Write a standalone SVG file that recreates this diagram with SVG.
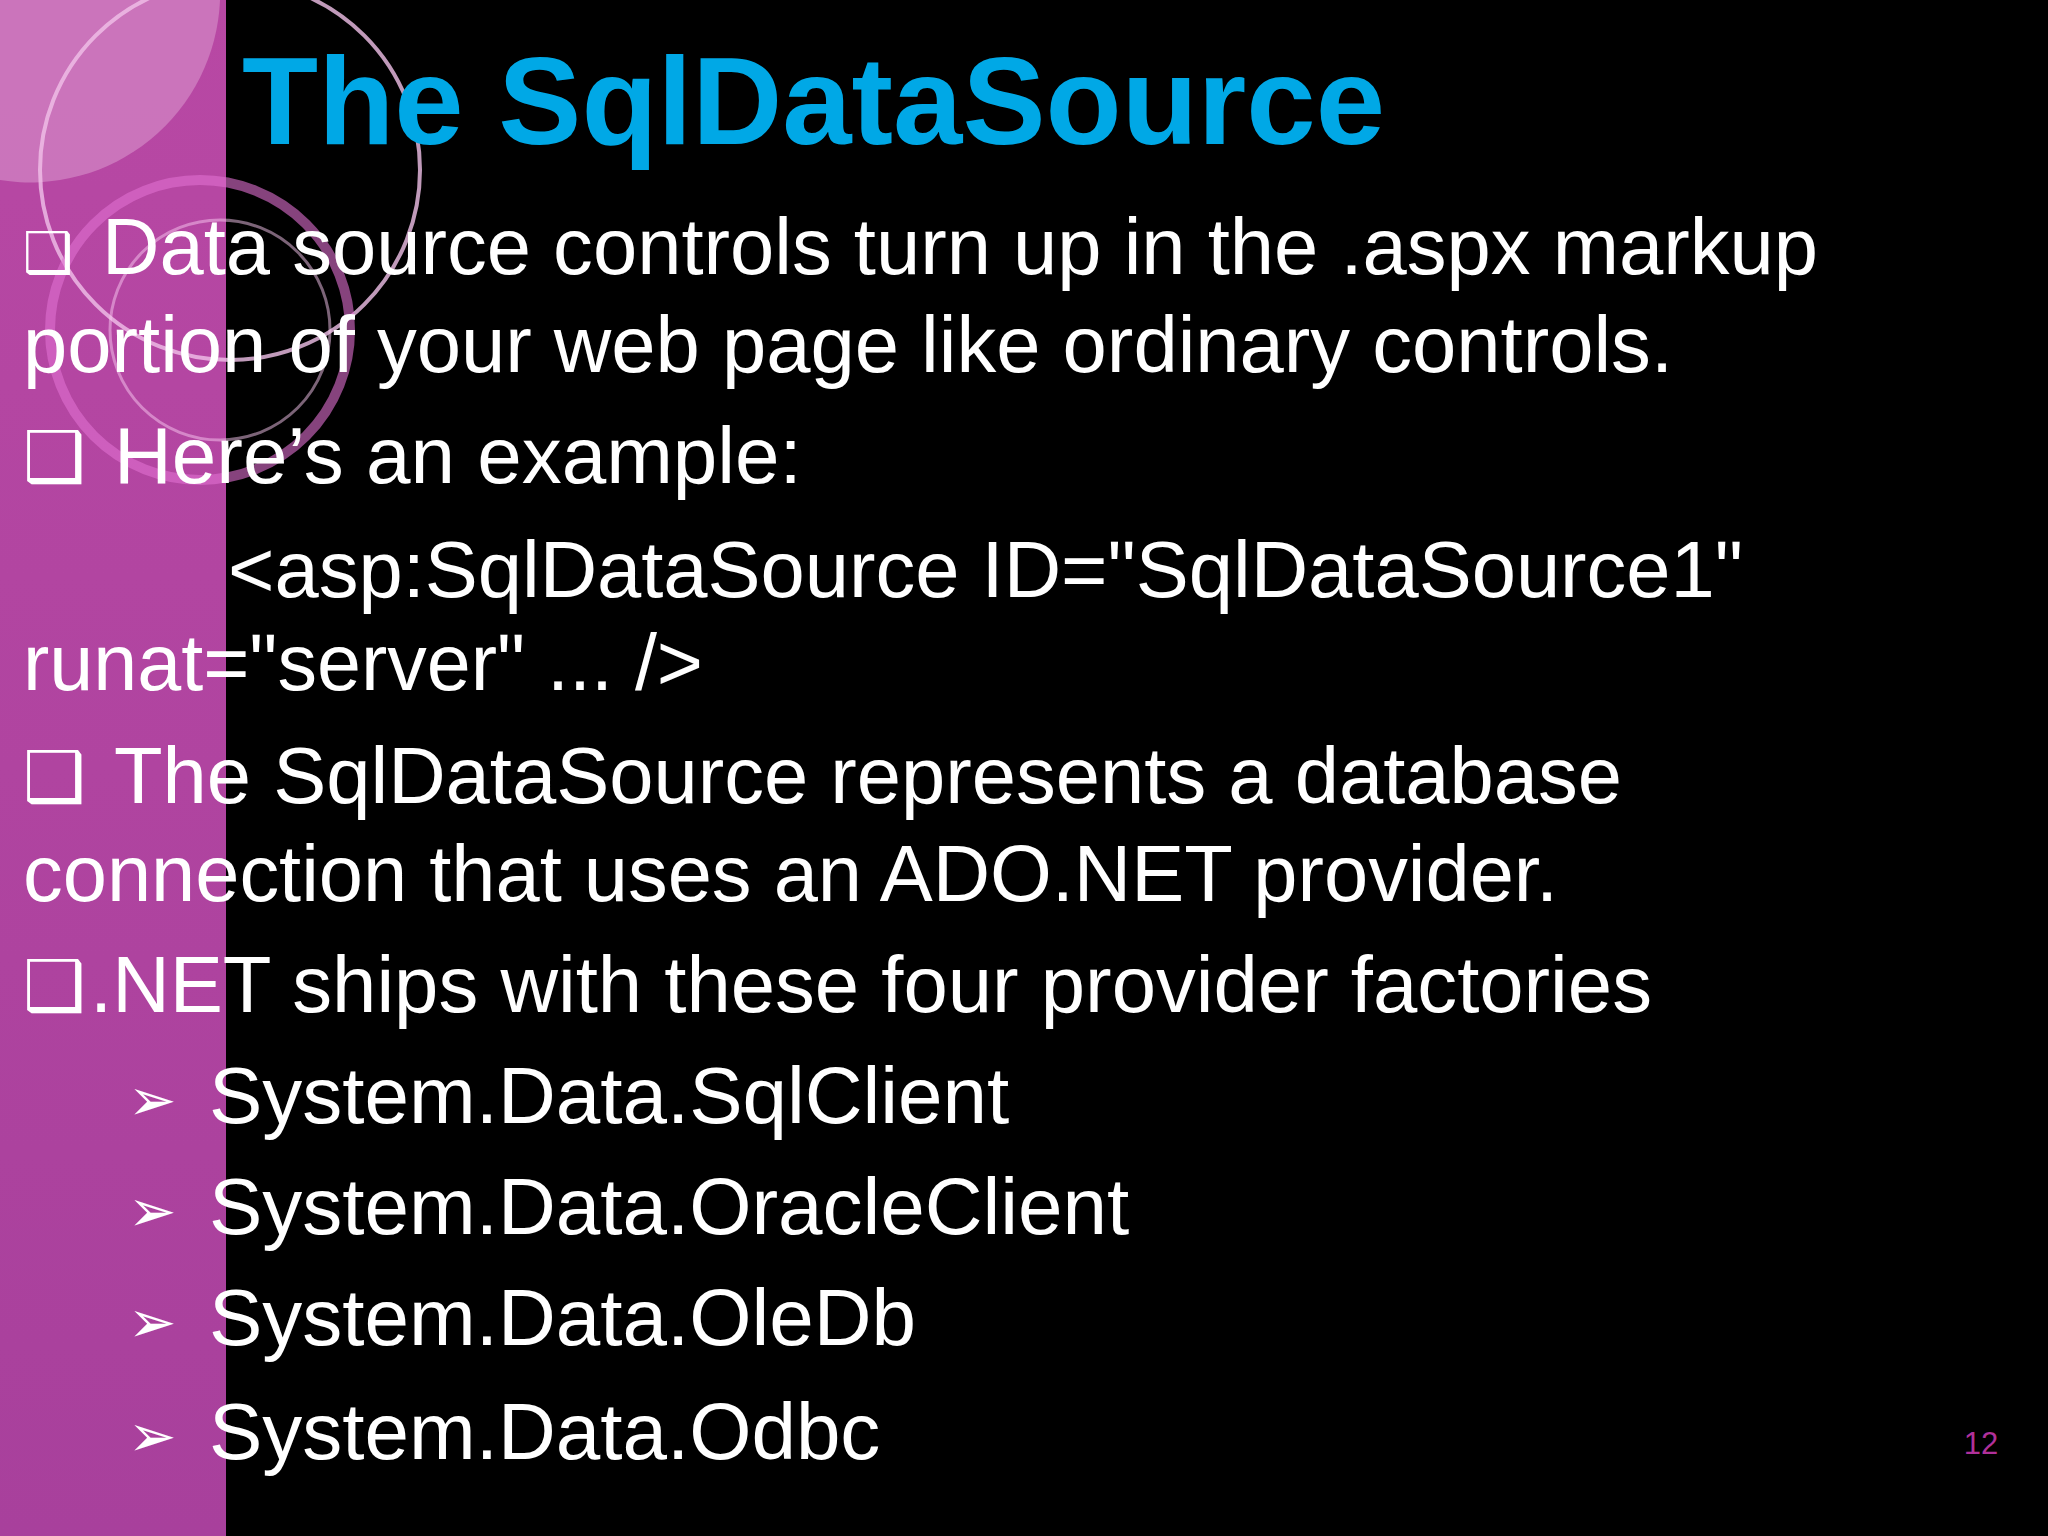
<svg xmlns="http://www.w3.org/2000/svg" width="2048" height="1536" viewBox="0 0 2048 1536">
<defs>
<linearGradient id="pg" x1="0" y1="0" x2="0" y2="1"><stop offset="0" stop-color="#B848A4"/><stop offset="1" stop-color="#A8409C"/></linearGradient>
<style>
.b{font-family:"Liberation Sans",Arial,sans-serif;font-size:80px;fill:#fff}
.s{font-family:"DejaVu Sans",sans-serif;fill:#fff}
</style>
</defs>
<rect width="2048" height="1536" fill="#000"/>
<rect width="226" height="1536" fill="url(#pg)"/>
<g id="decor" fill="none">
<path d="M0 0 H220 A190 190 0 0 1 0 180 Z" fill="#D080C0" opacity="0.8"/>
<circle cx="230" cy="170" r="190" stroke="#F0C0E8" stroke-width="4" opacity="0.8"/>
<circle cx="200" cy="330" r="150" stroke="#E070D0" stroke-width="10" opacity="0.6"/>
<circle cx="220" cy="330" r="110" stroke="#F8C8F0" stroke-width="3" opacity="0.5"/>
</g>
<text id="title" x="242" y="144" font-family="Liberation Sans,Arial,sans-serif" font-weight="bold" font-size="124" fill="#00A8E6" textLength="1143" lengthAdjust="spacingAndGlyphs">The SqlDataSource</text>
<g id="body">
<text class="s" x="23" y="272" font-size="56">❑</text>
<text class="b" x="102" y="274" textLength="1716" lengthAdjust="spacingAndGlyphs">Data source controls turn up in the .aspx markup</text>
<text class="b" x="23" y="372" textLength="1650" lengthAdjust="spacingAndGlyphs">portion of your web page like ordinary controls.</text>
<text class="s" x="23" y="481" font-size="70">❑</text>
<text class="b" x="114" y="483">Here’s an example:</text>
<text class="b" x="228" y="597" textLength="1515" lengthAdjust="spacingAndGlyphs">&lt;asp:SqlDataSource ID="SqlDataSource1"</text>
<text class="b" x="23" y="690" textLength="680" lengthAdjust="spacingAndGlyphs">runat="server" ... /&gt;</text>
<text class="s" x="23" y="801" font-size="70">❑</text>
<text class="b" x="114" y="803" textLength="1508" lengthAdjust="spacingAndGlyphs">The SqlDataSource represents a database</text>
<text class="b" x="23" y="901" textLength="1535" lengthAdjust="spacingAndGlyphs">connection that uses an ADO.NET provider.</text>
<text class="s" x="23" y="1010" font-size="70">❑</text>
<text class="b" x="90" y="1012" textLength="1562" lengthAdjust="spacingAndGlyphs">.NET ships with these four provider factories</text>
<text class="s" x="128" y="1120" font-size="58">➢</text>
<text class="b" x="209" y="1123">System.Data.SqlClient</text>
<text class="s" x="128" y="1231" font-size="58">➢</text>
<text class="b" x="209" y="1234">System.Data.OracleClient</text>
<text class="s" x="128" y="1342" font-size="58">➢</text>
<text class="b" x="209" y="1345">System.Data.OleDb</text>
<text class="s" x="128" y="1456" font-size="58">➢</text>
<text class="b" x="209" y="1459">System.Data.Odbc</text>
</g>
<text id="page" x="1981" y="1454" font-family="Liberation Sans,Arial,sans-serif" font-size="31" fill="#B0309A" text-anchor="middle">12</text>
</svg>
